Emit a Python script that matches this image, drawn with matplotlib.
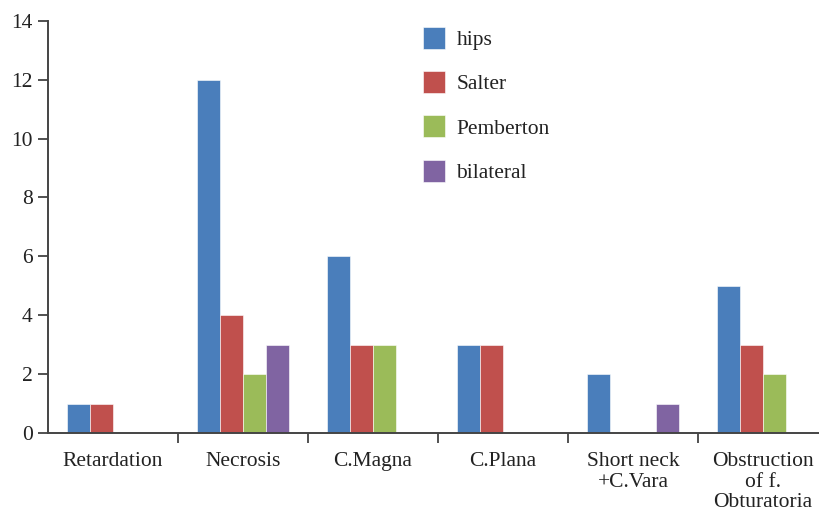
import matplotlib
matplotlib.use("Agg")
import matplotlib.pyplot as plt
import numpy as np

categories = ["Retardation", "Necrosis", "C.Magna", "C.Plana", "Short neck\n+C.Vara", "Obstruction\nof f.\nObturatoria"]
series_names = ["hips", "Salter", "Pemberton", "bilateral"]
hips = [1, 12, 6, 3, 2, 5]
salter = [1, 4, 3, 3, 0, 3]
pemberton = [0, 2, 3, 0, 0, 2]
bilateral = [0, 3, 0, 0, 1, 0]
colors = ["#4A7EBB", "#C0504D", "#9BBB59", "#8064A2"]

plt.rcParams['font.family'] = ['Liberation Serif', 'DejaVu Serif']

fig = plt.figure(figsize=(8.19, 5.11), dpi=100)
ax = fig.add_axes([48/819, 78/511, 780/819, 412.3/511])

x = np.arange(len(categories))
w = 0.177
data = [hips, salter, pemberton, bilateral]
for i, (vals, name, c) in enumerate(zip(data, series_names, colors)):
    ax.bar(x + (i - 1.5) * w, vals, width=w, color=c, label=name,
           edgecolor="white", linewidth=0.4)

fs = 15.5
ax.set_xlim(-0.5, len(categories) - 0.5)
ax.set_ylim(0, 14)
ax.set_yticks(range(0, 15, 2))
ax.set_xticks(x)
ax.set_xticklabels(categories, fontsize=fs, color="#222222", linespacing=1.13)
ax.tick_params(axis='x', length=0, pad=13.5)
ax.set_xticks(np.arange(0.5, len(categories) - 0.5, 1), minor=True)
ax.tick_params(axis='x', which='minor', length=7, width=1.2, color="#333333", direction='out')
ax.tick_params(axis='y', labelsize=fs, length=7, width=1.2, color="#333333", labelcolor="#222222", pad=4)
for s in ["top", "right"]:
    ax.spines[s].set_visible(False)
for s in ["left", "bottom"]:
    ax.spines[s].set_color("#444444")
    ax.spines[s].set_linewidth(1.4)

leg = ax.legend(loc="upper left", bbox_to_anchor=(423/819, 1 - 27/511), bbox_transform=fig.transFigure,
                frameon=False, fontsize=fs, handlelength=1.0, handleheight=1.2,
                labelspacing=0.97, handletextpad=0.55, borderpad=0, borderaxespad=0)
for t in leg.get_texts():
    t.set_color("#222222")

fig.savefig("out.png", dpi=100)
